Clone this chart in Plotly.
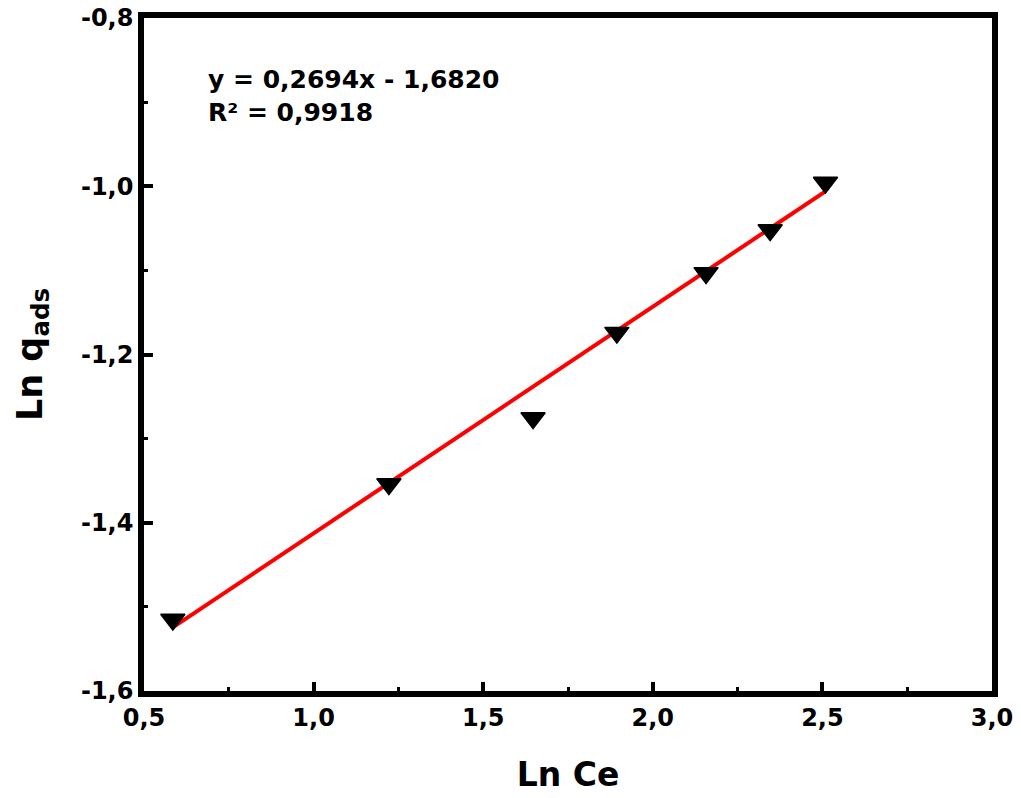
import plotly.graph_objects as go

ln_ce = [0.585, 1.222, 1.647, 1.894, 2.157, 2.346, 2.509]
ln_q = [-1.515, -1.354, -1.2755, -1.174, -1.103, -1.052, -0.9956]
slope = 0.2694
intercept = -1.6820
x_ticks = [0.5, 1.0, 1.5, 2.0, 2.5, 3.0]
x_labels = ["0,5", "1,0", "1,5", "2,0", "2,5", "3,0"]
y_ticks = [-1.6, -1.4, -1.2, -1.0, -0.8]
y_labels = ["-1,6", "-1,4", "-1,2", "-1,0", "-0,8"]
eq_text = "y = 0,2694x - 1,6820<br>R² = 0,9918"

fit_x = [min(ln_ce), max(ln_ce)]
fit_y = [slope * v + intercept for v in fit_x]

FONT = "DejaVu Sans"

fig = go.Figure()
fig.add_trace(go.Scatter(x=fit_x, y=fit_y, mode="lines",
                         line=dict(color="#ff0000", width=4), showlegend=False))
fig.add_trace(go.Scatter(x=ln_ce, y=ln_q, mode="markers",
                         marker=dict(symbol="triangle-down", size=21, color="black",
                                     line=dict(width=1.5, color="black")),
                         showlegend=False))

axis_common = dict(showline=True, linecolor="black", linewidth=5.5, mirror=True,
                   ticks="inside", ticklen=9, tickwidth=4, tickcolor="black",
                   showgrid=False, zeroline=False, automargin=False,
                   tickfont=dict(family=FONT, size=24, color="black", weight="bold"))

fig.update_xaxes(range=[0.5, 3.0], tickvals=x_ticks, ticktext=x_labels,
                 minor=dict(ticks="inside", ticklen=4, tickwidth=3, dtick=0.25,
                            tick0=0.5, tickcolor="black", showgrid=False),
                 title=dict(text="<b>Ln Ce</b>", standoff=34,
                            font=dict(family=FONT, size=33, color="black")),
                 **axis_common)
fig.update_yaxes(range=[-1.6, -0.8], tickvals=y_ticks, ticktext=y_labels,
                 minor=dict(ticks="inside", ticklen=4, tickwidth=3, dtick=0.1,
                            tick0=-1.6, tickcolor="black", showgrid=False),
                 title=dict(text="<b>Ln q<sub>ads</sub></b>", standoff=30,
                            font=dict(family=FONT, size=35, color="black")),
                 **axis_common)

fig.add_annotation(x=0.073, y=0.933, xref="paper", yref="paper",
                   xanchor="left", yanchor="top", align="left", showarrow=False,
                   text="<b>" + eq_text + "</b>",
                   font=dict(family=FONT, size=25, color="black"))

fig.update_layout(width=1021, height=798, plot_bgcolor="white", paper_bgcolor="white",
                  margin=dict(l=144, r=29, t=18, b=107))
fig.write_html("out.html", config={"displayModeBar": False},
               post_script="document.body.style.margin='0';")
